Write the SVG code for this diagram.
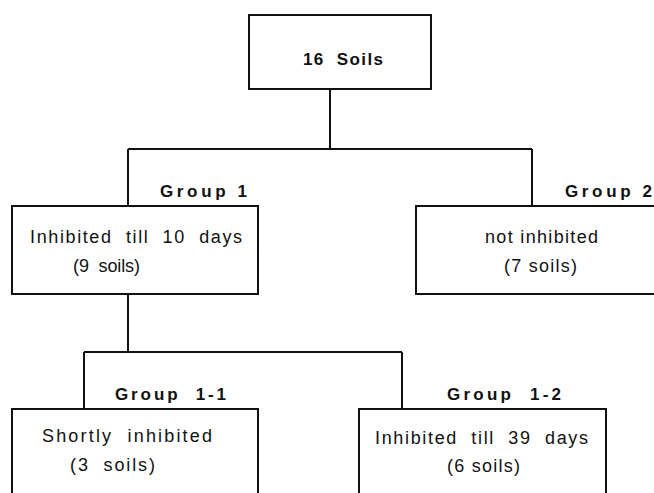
<svg xmlns="http://www.w3.org/2000/svg" width="654" height="493" viewBox="0 0 654 493">
<style>
.box{fill:#fff;stroke:#111;stroke-width:2}
.ln{fill:none;stroke:#111;stroke-width:2}
.t{font-family:"Liberation Sans",Arial,Helvetica,sans-serif;font-size:18px;fill:#111;white-space:pre}
.b{font-weight:bold;font-size:17px}
</style>
<rect width="654" height="493" fill="#fff"/>
<g id="connectors">
<path class="ln" d="M330,89 V149 M128,149 H532 M128,149 V206 M532,149 V206"/>
<path class="ln" d="M128,294 V352 M84,352 H402 M84,352 V409 M402,352 V409"/>
</g>
<g id="root">
<rect class="box" x="249" y="15" width="182" height="74"/>
<text class="t b" x="303" y="65" textLength="80" lengthAdjust="spacing" xml:space="preserve">16  Soils</text>
</g>
<g id="group1">
<text class="t b" x="160" y="197" textLength="87" lengthAdjust="spacing">Group 1</text>
<rect class="box" x="12" y="206" width="246" height="88"/>
<text class="t" x="30" y="243" textLength="212" lengthAdjust="spacing" xml:space="preserve">Inhibited  till  10  days</text>
<text class="t" x="73" y="272" textLength="67" lengthAdjust="spacing" xml:space="preserve">(9  soils)</text>
</g>
<g id="group2">
<text class="t b" x="565" y="197" textLength="87" lengthAdjust="spacing">Group 2</text>
<rect class="box" x="416" y="206" width="250" height="88"/>
<text class="t" x="485" y="243" textLength="113" lengthAdjust="spacing">not inhibited</text>
<text class="t" x="504" y="272" textLength="73" lengthAdjust="spacing">(7 soils)</text>
</g>
<g id="group1-1">
<text class="t b" x="115" y="400" textLength="111" lengthAdjust="spacing" xml:space="preserve">Group  1-1</text>
<rect class="box" x="12" y="409" width="246" height="100"/>
<text class="t" x="42" y="442" textLength="170" lengthAdjust="spacing" xml:space="preserve">Shortly  inhibited</text>
<text class="t" x="70" y="471" textLength="85" lengthAdjust="spacing" xml:space="preserve">(3  soils)</text>
</g>
<g id="group1-2">
<text class="t b" x="447" y="400" textLength="114" lengthAdjust="spacing" xml:space="preserve">Group  1-2</text>
<rect class="box" x="359" y="409" width="247" height="100"/>
<text class="t" x="375" y="444" textLength="213" lengthAdjust="spacing" xml:space="preserve">Inhibited  till  39  days</text>
<text class="t" x="447" y="472" textLength="73" lengthAdjust="spacing">(6 soils)</text>
</g>
</svg>
